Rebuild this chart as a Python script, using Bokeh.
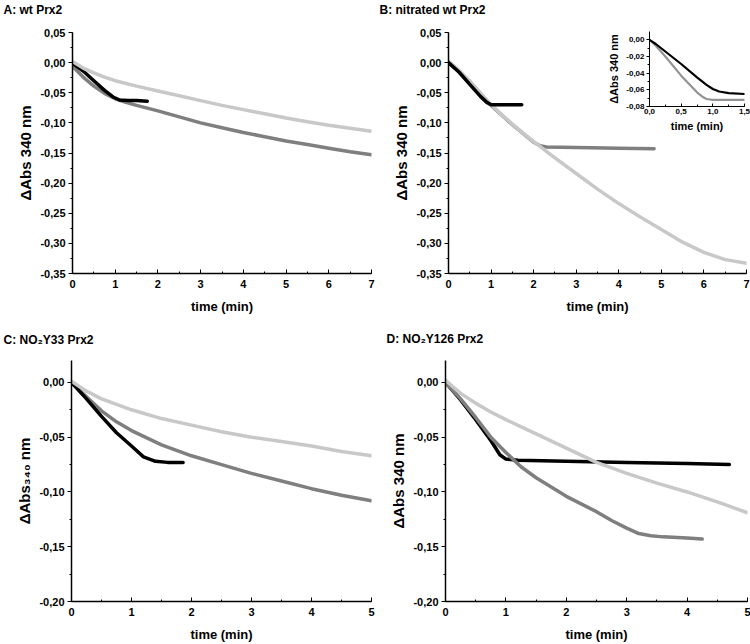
from bokeh.plotting import figure
from bokeh.layouts import row, column
from bokeh.models import Range1d, FixedTicker, CustomJSTickFormatter
from bokeh.embed import file_html
from bokeh.resources import INLINE

FONT = "Liberation Sans"
BLACK = "#000000"
DARK = "#7f7f7f"
LIGHT = "#c8c8c8"
INSET_GRAY = "#939393"

# ---------------- data ----------------
# Panel A: wt Prx2
A_T_LIGHT = [0, 0.25, 0.5, 0.75, 1, 1.5, 2, 2.5, 3, 3.5, 4, 4.5, 5, 5.5, 6, 6.5, 7]
A_Y_LIGHT = [0.002, -0.009, -0.017, -0.024, -0.030, -0.039, -0.047, -0.055, -0.063,
             -0.071, -0.078, -0.085, -0.092, -0.098, -0.104, -0.109, -0.114]
A_T_DARK = [0, 0.25, 0.5, 0.75, 1, 1.25, 1.5, 2, 2.5, 3, 3.5, 4, 4.5, 5, 5.5, 6, 6.5, 7]
A_Y_DARK = [-0.006, -0.024, -0.039, -0.051, -0.060, -0.066, -0.071, -0.080, -0.090, -0.100,
            -0.108, -0.116, -0.123, -0.130, -0.136, -0.142, -0.148, -0.153]
A_T_BLACK = [0, 0.25, 0.5, 0.75, 0.95, 1.1, 1.3, 1.5, 1.75]
A_Y_BLACK = [-0.001, -0.014, -0.030, -0.046, -0.057, -0.062, -0.063, -0.063, -0.064]

# Panel B: nitrated wt Prx2
B_T_LIGHT = [0, 0.25, 0.5, 0.75, 1, 1.25, 1.5, 1.75, 2, 2.5, 3, 3.5, 4, 4.5, 5, 5.5, 6, 6.5, 7]
B_Y_LIGHT = [0.002, -0.013, -0.031, -0.051, -0.070, -0.087, -0.102, -0.117, -0.131, -0.158,
             -0.184, -0.210, -0.234, -0.256, -0.277, -0.298, -0.315, -0.327, -0.333]
B_T_DARK = [0, 0.5, 1, 1.5, 2, 2.15, 2.3, 3, 4, 4.83]
B_Y_DARK = [0.0, -0.031, -0.071, -0.103, -0.132, -0.138, -0.140, -0.141, -0.142, -0.143]
B_T_BLACK = [0, 0.25, 0.5, 0.75, 0.9, 1.0, 1.3, 1.72]
B_Y_BLACK = [0.0, -0.016, -0.036, -0.056, -0.066, -0.070, -0.070, -0.070]

# Inset of panel B
I_T_BLACK = [0, 0.1, 0.25, 0.5, 0.75, 0.9, 1.0, 1.1, 1.25, 1.5]
I_Y_BLACK = [0.0, -0.005, -0.014, -0.029, -0.045, -0.054, -0.059, -0.062, -0.064, -0.065]
I_T_GRAY = [0, 0.1, 0.25, 0.5, 0.75, 0.85, 0.9, 1.0, 1.25, 1.5]
I_Y_GRAY = [0.0, -0.007, -0.020, -0.043, -0.063, -0.069, -0.071, -0.072, -0.072, -0.072]

# Panel C: NO2Y33 Prx2
C_T_LIGHT = [0, 0.25, 0.5, 0.75, 1, 1.5, 2, 2.5, 3, 3.5, 4, 4.5, 5]
C_Y_LIGHT = [0.001, -0.008, -0.015, -0.020, -0.025, -0.033, -0.039, -0.045, -0.050,
             -0.054, -0.058, -0.063, -0.067]
C_T_DARK = [0, 0.25, 0.5, 0.75, 1, 1.5, 2, 2.5, 3, 3.5, 4, 4.5, 5]
C_Y_DARK = [0.0, -0.013, -0.026, -0.036, -0.044, -0.057, -0.067, -0.075, -0.083,
            -0.090, -0.097, -0.103, -0.108]
C_T_BLACK = [0, 0.25, 0.5, 0.75, 1.0, 1.2, 1.4, 1.6, 1.86]
C_Y_BLACK = [0.0, -0.015, -0.031, -0.046, -0.058, -0.068, -0.072, -0.073, -0.073]

# Panel D: NO2Y126 Prx2
D_T_LIGHT = [0, 0.25, 0.5, 0.75, 1, 1.5, 2, 2.5, 3, 3.5, 4, 4.5, 5]
D_Y_LIGHT = [0.002, -0.010, -0.019, -0.027, -0.034, -0.047, -0.060, -0.073, -0.083,
             -0.092, -0.100, -0.109, -0.119]
D_T_DARK = [0, 0.25, 0.5, 0.75, 1, 1.25, 1.5, 2, 2.5, 2.75, 3, 3.2, 3.4, 3.6, 4, 4.25]
D_Y_DARK = [0.0, -0.015, -0.032, -0.050, -0.064, -0.077, -0.087, -0.104, -0.118, -0.126,
            -0.133, -0.138, -0.140, -0.141, -0.142, -0.143]
D_T_BLACK = [0, 0.25, 0.5, 0.75, 0.9, 1.0, 1.2, 2, 3, 4, 4.7]
D_Y_BLACK = [0.0, -0.016, -0.034, -0.053, -0.066, -0.070, -0.071, -0.072, -0.073, -0.074, -0.075]

# ticks
X7_TICKS = [0, 1, 2, 3, 4, 5, 6, 7]
X5_TICKS = [0, 1, 2, 3, 4, 5]
Y_AB_TICKS = [0.05, 0.0, -0.05, -0.10, -0.15, -0.20, -0.25, -0.30, -0.35]
Y_CD_TICKS = [0.0, -0.05, -0.10, -0.15, -0.20]
I_X_TICKS = [0.0, 0.5, 1.0, 1.5]
I_Y_TICKS = [0.0, -0.02, -0.04, -0.06, -0.08]

TITLES = ["A: wt Prx2", "B: nitrated wt Prx2", "C: NO\u2082Y33 Prx2", "D: NO\u2082Y126 Prx2"]
YLABELS = ["\u0394Abs\u00a0340 nm", "\u0394Abs\u00a0340 nm", "\u0394Abs\u2083\u2084\u2080 nm",
           "\u0394Abs\u00a0340 nm"]
INSET_YLABEL = "\u0394Abs 340 nm"
XLABEL = "time (min)"


def fmt(decimals):
    return CustomJSTickFormatter(
        code="return tick.toFixed(%d).replace('.', ',');" % decimals)


def minors(ticks, step):
    lo, hi = min(ticks), max(ticks)
    out = []
    v = lo
    while v <= hi + 1e-9:
        out.append(round(v, 4))
        v += step
    return out


def style_axes(p, xt, xminor, xdec, yt, yminor, ydec, tick_size, label_size, ylabel, xlabel,
               tick_len=4, minor_len=2, ylabel_size=None):
    p.outline_line_color = None
    p.xgrid.visible = False
    p.ygrid.visible = False
    p.background_fill_color = None
    p.border_fill_color = None
    for ax in (p.xaxis[0], p.yaxis[0]):
        ax.axis_line_width = 1.5
        ax.axis_line_color = "#000000"
        ax.major_tick_line_color = "#000000"
        ax.minor_tick_line_color = "#000000"
        ax.major_label_text_font = FONT
        ax.major_label_text_font_style = "bold"
        ax.major_label_text_font_size = tick_size
        ax.major_label_text_color = "#000000"
        ax.axis_label_text_font = FONT
        ax.axis_label_text_font_style = "bold"
        ax.axis_label_text_font_size = label_size
        ax.axis_label_text_color = "#000000"
    xa = p.xaxis[0]
    xa.ticker = FixedTicker(ticks=xt, minor_ticks=xminor)
    xa.formatter = fmt(xdec)
    xa.major_tick_in = tick_len
    xa.major_tick_out = 0
    xa.minor_tick_in = minor_len
    xa.minor_tick_out = 0
    xa.axis_label = xlabel
    ya = p.yaxis[0]
    ya.ticker = FixedTicker(ticks=yt, minor_ticks=yminor)
    ya.formatter = fmt(ydec)
    ya.major_tick_in = 0
    ya.major_tick_out = tick_len
    ya.minor_tick_in = 0
    ya.minor_tick_out = minor_len
    ya.axis_label = ylabel
    if ylabel_size:
        ya.axis_label_text_font_size = ylabel_size


def panel(width, height, borders, xr, yr):
    left, right, top, bottom = borders
    return figure(width=width, height=height, x_range=Range1d(*xr), y_range=Range1d(*yr),
                  output_backend="svg", toolbar_location=None,
                  min_border_left=left, min_border_right=right,
                  min_border_top=top, min_border_bottom=bottom)


def caption(text, left, top):
    """A small transparent figure (no axes) that only carries a panel caption."""
    c = figure(width=220, height=40, x_range=Range1d(0, 1), y_range=Range1d(0, 1),
               output_backend="svg", toolbar_location=None,
               x_axis_location=None, y_axis_location=None,
               min_border_left=0, min_border_right=0, min_border_top=36, min_border_bottom=0,
               styles={"position": "absolute", "left": "%dpx" % left, "top": "%dpx" % top})
    c.xgrid.visible = False
    c.ygrid.visible = False
    c.outline_line_color = None
    c.background_fill_color = None
    c.border_fill_color = None
    c.title.text = text
    c.title.text_font = FONT
    c.title.text_font_style = "bold"
    c.title.text_font_size = "12px"
    c.title.text_color = "#000000"
    c.title.align = "left"
    c.title.offset = 0
    c.title.standoff = 16
    return c


def draw(p, series, width=3.5):
    for t, y, c in series:
        p.line(t, y, line_color=c, line_width=width, line_join="round", line_cap="round")


# Panel A
pA = panel(375, 320, (72, 4, 32, 47), (0, 7), (-0.35, 0.05))
style_axes(pA, X7_TICKS, minors(X7_TICKS, 0.5), 0, Y_AB_TICKS, minors(Y_AB_TICKS, 0.025), 2,
           "11px", "13px", YLABELS[0], XLABEL, ylabel_size="15px")
draw(pA, [(A_T_DARK, A_Y_DARK, DARK), (A_T_BLACK, A_Y_BLACK, BLACK), (A_T_LIGHT, A_Y_LIGHT, LIGHT)])

# Panel B
pB = panel(375, 320, (73, 4, 32, 47), (0, 7), (-0.35, 0.05))
style_axes(pB, X7_TICKS, minors(X7_TICKS, 0.5), 0, Y_AB_TICKS, minors(Y_AB_TICKS, 0.025), 2,
           "11px", "13px", YLABELS[1], XLABEL, ylabel_size="15px")
draw(pB, [(B_T_DARK, B_Y_DARK, DARK), (B_T_LIGHT, B_Y_LIGHT, LIGHT), (B_T_BLACK, B_Y_BLACK, BLACK)])

# Panel C
pC = panel(375, 324, (71, 4, 40, 41), (0, 5), (-0.20, 0.02))
style_axes(pC, X5_TICKS, minors(X5_TICKS, 0.5), 0, Y_CD_TICKS, minors(Y_CD_TICKS, 0.025), 2,
           "11px", "13px", YLABELS[2], XLABEL, ylabel_size="15px")
draw(pC, [(C_T_DARK, C_Y_DARK, DARK), (C_T_BLACK, C_Y_BLACK, BLACK), (C_T_LIGHT, C_Y_LIGHT, LIGHT)])

# Panel D
pD = panel(375, 324, (70, 3, 37, 41), (0, 5), (-0.20, 0.02))
style_axes(pD, X5_TICKS, minors(X5_TICKS, 0.5), 0, Y_CD_TICKS, minors(Y_CD_TICKS, 0.025), 2,
           "11px", "13px", YLABELS[3], XLABEL, ylabel_size="15px")
draw(pD, [(D_T_BLACK, D_Y_BLACK, BLACK), (D_T_DARK, D_Y_DARK, DARK), (D_T_LIGHT, D_Y_LIGHT, LIGHT)])

# Inset (in panel B)
pI = figure(width=145, height=111, x_range=Range1d(0, 1.5), y_range=Range1d(-0.08, 0.01),
            output_backend="svg", toolbar_location=None,
            min_border_left=43, min_border_right=6, min_border_top=5, min_border_bottom=31,
            styles={"position": "absolute", "left": "605px", "top": "26px"})
style_axes(pI, I_X_TICKS, minors(I_X_TICKS, 0.25), 1, I_Y_TICKS, minors(I_Y_TICKS, 0.01), 2,
           "8px", "11px", INSET_YLABEL, XLABEL, tick_len=3, minor_len=2)
for ax in (pI.xaxis[0], pI.yaxis[0]):
    ax.axis_line_width = 1
    ax.major_label_standoff = 2
    ax.axis_label_standoff = 3
draw(pI, [(I_T_GRAY, I_Y_GRAY, INSET_GRAY), (I_T_BLACK, I_Y_BLACK, BLACK)], width=2.2)

for p in (pA, pB, pC, pD):
    p.yaxis[0].major_label_standoff = 3
    p.yaxis[0].axis_label_standoff = 3
    p.xaxis[0].major_label_standoff = 6
    p.xaxis[0].axis_label_standoff = 8

capA = caption(TITLES[0], -41, -12)
capB = caption(TITLES[1], 335, -12)
capC = caption(TITLES[2], -41, 318)
capD = caption(TITLES[3], 342, 317)

layout = column(row(pA, pB), row(pC, pD), pI, capA, capB, capC, capD)

open("out.html", "w").write(file_html(layout, INLINE))
